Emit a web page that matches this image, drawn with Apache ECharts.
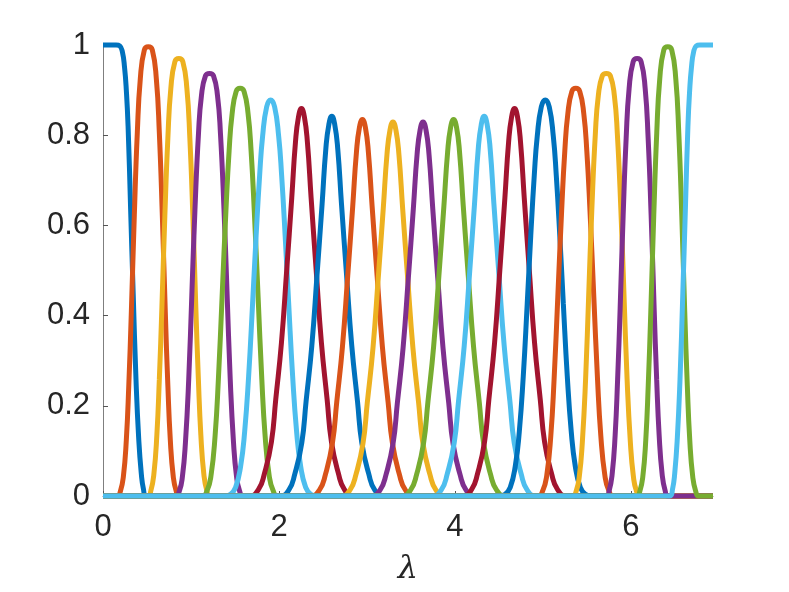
<!DOCTYPE html>
<html>
<head>
<meta charset="utf-8">
<script src="https://cdn.jsdelivr.net/npm/echarts@6/dist/echarts.min.js"></script>
<style>
  html, body { margin: 0; padding: 0; background: #fff; }
  #chart { width: 789px; height: 592px; }
</style>
</head>
<body>
<div id="chart"></div>
<script>
// tick values
const xTicks = [0, 2, 4, 6]
const yTicks = [0, 0.2, 0.4, 0.6, 0.8, 1]
const lamMax = 6.932

// curves, [lambda, value]
const c00 = [[0,1],[0.15,1],[0.19,0.998],[0.22,0.985],[0.245,0.95],[0.265,0.9],[0.285,0.82],[0.314,0.635],[0.343,0.45],[0.375,0.258],[0.405,0.13],[0.435,0.05],[0.46,0.015],[0.49,0],[6.932,0]]
const c01 = [[0,0],[0.163,0],[0.197,0.010],[0.231,0.042],[0.265,0.124],[0.293,0.245],[0.322,0.408],[0.356,0.623],[0.390,0.806],[0.424,0.925],[0.470,0.989],[0.515,0.996],[0.560,0.989],[0.606,0.925],[0.640,0.806],[0.674,0.623],[0.708,0.408],[0.737,0.245],[0.765,0.124],[0.799,0.042],[0.833,0.010],[0.867,0],[6.932,0]]
const c02 = [[0,0],[0.510,0],[0.544,0.012],[0.578,0.048],[0.612,0.135],[0.640,0.258],[0.669,0.417],[0.703,0.622],[0.737,0.793],[0.771,0.904],[0.817,0.963],[0.862,0.970],[0.907,0.963],[0.953,0.904],[0.987,0.793],[1.021,0.622],[1.055,0.417],[1.084,0.258],[1.112,0.135],[1.146,0.048],[1.180,0.012],[1.214,0],[6.932,0]]
const c03 = [[0,0],[0.824,0],[0.869,0.012],[0.903,0.044],[0.937,0.119],[0.974,0.258],[1.011,0.455],[1.045,0.635],[1.085,0.803],[1.119,0.888],[1.165,0.932],[1.210,0.937],[1.255,0.932],[1.301,0.888],[1.335,0.803],[1.375,0.635],[1.409,0.455],[1.446,0.258],[1.483,0.119],[1.517,0.044],[1.551,0.012],[1.596,0],[6.932,0]]
const c04 = [[0,0],[1.126,0],[1.183,0.012],[1.228,0.046],[1.274,0.134],[1.311,0.258],[1.353,0.440],[1.397,0.633],[1.433,0.765],[1.467,0.847],[1.513,0.897],[1.558,0.904],[1.603,0.897],[1.649,0.847],[1.683,0.765],[1.719,0.633],[1.763,0.440],[1.805,0.258],[1.842,0.134],[1.888,0.046],[1.933,0.012],[1.990,0],[6.932,0]]
const c05 = [[0,0],[1.382,0],[1.450,0.004],[1.507,0.019],[1.564,0.066],[1.610,0.143],[1.655,0.266],[1.700,0.427],[1.740,0.577],[1.780,0.711],[1.814,0.798],[1.860,0.863],[1.905,0.878],[1.950,0.863],[1.996,0.798],[2.030,0.711],[2.070,0.577],[2.110,0.427],[2.155,0.266],[2.200,0.143],[2.246,0.066],[2.303,0.019],[2.360,0.004],[2.428,0],[6.932,0]]
const c06 = [[0,0],[1.664,0],[1.766,0.014],[1.835,0.050],[1.914,0.120],[1.963,0.214],[2.028,0.340],[2.088,0.502],[2.145,0.661],[2.187,0.784],[2.221,0.840],[2.255,0.859],[2.289,0.840],[2.323,0.784],[2.365,0.661],[2.422,0.502],[2.482,0.340],[2.547,0.214],[2.596,0.120],[2.675,0.050],[2.744,0.014],[2.846,0],[6.932,0]]
const c07 = [[0,0],[2.009,0],[2.111,0.013],[2.180,0.049],[2.259,0.118],[2.308,0.210],[2.373,0.333],[2.433,0.492],[2.490,0.648],[2.532,0.769],[2.566,0.823],[2.600,0.842],[2.634,0.823],[2.668,0.769],[2.710,0.648],[2.767,0.492],[2.827,0.333],[2.892,0.210],[2.941,0.118],[3.020,0.049],[3.089,0.013],[3.191,0],[6.932,0]]
const c08 = [[0,0],[2.357,0],[2.459,0.013],[2.528,0.048],[2.607,0.117],[2.656,0.208],[2.721,0.331],[2.781,0.488],[2.838,0.643],[2.880,0.762],[2.914,0.817],[2.948,0.835],[2.982,0.817],[3.016,0.762],[3.058,0.643],[3.115,0.488],[3.175,0.331],[3.240,0.208],[3.289,0.117],[3.368,0.048],[3.437,0.013],[3.539,0],[6.932,0]]
const c09 = [[0,0],[2.704,0],[2.806,0.013],[2.875,0.048],[2.954,0.116],[3.003,0.206],[3.068,0.328],[3.128,0.484],[3.185,0.638],[3.227,0.757],[3.261,0.811],[3.295,0.829],[3.329,0.811],[3.363,0.757],[3.405,0.638],[3.462,0.484],[3.522,0.328],[3.587,0.206],[3.636,0.116],[3.715,0.048],[3.784,0.013],[3.886,0],[6.932,0]]
const c10 = [[0,0],[3.046,0],[3.148,0.013],[3.217,0.048],[3.296,0.116],[3.345,0.206],[3.410,0.328],[3.470,0.484],[3.527,0.638],[3.569,0.757],[3.603,0.811],[3.637,0.829],[3.671,0.811],[3.705,0.757],[3.747,0.638],[3.804,0.484],[3.864,0.328],[3.929,0.206],[3.978,0.116],[4.057,0.048],[4.126,0.013],[4.228,0],[6.932,0]]
const c11 = [[0,0],[3.393,0],[3.495,0.013],[3.564,0.048],[3.643,0.117],[3.692,0.208],[3.757,0.331],[3.817,0.488],[3.874,0.643],[3.916,0.762],[3.950,0.817],[3.984,0.835],[4.018,0.817],[4.052,0.762],[4.094,0.643],[4.151,0.488],[4.211,0.331],[4.276,0.208],[4.325,0.117],[4.404,0.048],[4.473,0.013],[4.575,0],[6.932,0]]
const c12 = [[0,0],[3.741,0],[3.843,0.013],[3.912,0.049],[3.991,0.118],[4.040,0.210],[4.105,0.333],[4.165,0.492],[4.222,0.648],[4.264,0.769],[4.298,0.823],[4.332,0.842],[4.366,0.823],[4.400,0.769],[4.442,0.648],[4.499,0.492],[4.559,0.333],[4.624,0.210],[4.673,0.118],[4.752,0.049],[4.821,0.013],[4.923,0],[6.932,0]]
const c13 = [[0,0],[4.086,0],[4.188,0.014],[4.257,0.050],[4.336,0.120],[4.385,0.214],[4.450,0.340],[4.510,0.502],[4.567,0.661],[4.609,0.784],[4.643,0.840],[4.677,0.859],[4.711,0.840],[4.745,0.784],[4.787,0.661],[4.844,0.502],[4.904,0.340],[4.969,0.214],[5.018,0.120],[5.097,0.050],[5.166,0.014],[5.268,0],[6.932,0]]
const c14 = [[0,0],[4.503,0],[4.571,0.004],[4.628,0.019],[4.685,0.066],[4.731,0.143],[4.776,0.266],[4.821,0.427],[4.861,0.577],[4.901,0.711],[4.935,0.798],[4.981,0.863],[5.026,0.878],[5.071,0.863],[5.117,0.798],[5.151,0.711],[5.191,0.577],[5.231,0.427],[5.276,0.266],[5.321,0.143],[5.367,0.066],[5.424,0.019],[5.481,0.004],[5.549,0],[6.932,0]]
const c15 = [[0,0],[4.941,0],[4.998,0.012],[5.043,0.046],[5.089,0.134],[5.126,0.258],[5.168,0.440],[5.212,0.633],[5.248,0.765],[5.282,0.847],[5.328,0.897],[5.373,0.904],[5.418,0.897],[5.464,0.847],[5.498,0.765],[5.534,0.633],[5.578,0.440],[5.620,0.258],[5.657,0.134],[5.703,0.046],[5.748,0.012],[5.805,0],[6.932,0]]
const c16 = [[0,0],[5.334,0],[5.379,0.012],[5.413,0.044],[5.447,0.119],[5.484,0.258],[5.521,0.455],[5.555,0.635],[5.595,0.803],[5.629,0.888],[5.675,0.932],[5.720,0.937],[5.765,0.932],[5.811,0.888],[5.845,0.803],[5.885,0.635],[5.919,0.455],[5.956,0.258],[5.993,0.119],[6.027,0.044],[6.061,0.012],[6.106,0],[6.932,0]]
const c17 = [[0,0],[5.718,0],[5.752,0.012],[5.786,0.048],[5.820,0.135],[5.848,0.258],[5.877,0.417],[5.911,0.622],[5.945,0.793],[5.979,0.904],[6.025,0.963],[6.070,0.970],[6.115,0.963],[6.161,0.904],[6.195,0.793],[6.229,0.622],[6.263,0.417],[6.292,0.258],[6.320,0.135],[6.354,0.048],[6.388,0.012],[6.422,0],[6.932,0]]
const c18 = [[0,0],[6.066,0],[6.100,0.010],[6.134,0.042],[6.168,0.124],[6.196,0.245],[6.225,0.408],[6.259,0.623],[6.293,0.806],[6.327,0.925],[6.373,0.989],[6.418,0.996],[6.463,0.989],[6.509,0.925],[6.543,0.806],[6.577,0.623],[6.611,0.408],[6.640,0.245],[6.668,0.124],[6.702,0.042],[6.736,0.010],[6.770,0],[6.932,0]]
const c19 = [[0,0],[6.442,0],[6.472,0.015],[6.497,0.05],[6.527,0.13],[6.557,0.258],[6.589,0.45],[6.618,0.635],[6.647,0.82],[6.667,0.9],[6.687,0.95],[6.712,0.985],[6.742,0.998],[6.782,1],[6.932,1]]

const curves = [c00, c01, c02, c03, c04, c05, c06, c07, c08, c09,
  c10, c11, c12, c13, c14, c15, c16, c17, c18, c19]

// matlab default colour order
const colorOrder = ['#0072BD', '#D95319', '#EDB120', '#7E2F8E', '#77AC30', '#4DBEEE', '#A2142F']

const myChart = echarts.init(document.getElementById('chart'))

const axisFont = "'Liberation Sans', Helvetica, Arial, sans-serif"

var option = {
  animation: false,
  backgroundColor: '#fff',
  grid: {
    left: 103,
    right: 76,
    top: 45,
    bottom: 96,
    containLabel: false,
    outerBoundsMode: 'none'
  },
  xAxis: {
    type: 'value',
    min: 0,
    max: lamMax,
    interval: 2,
    name: 'λ',
    nameLocation: 'middle',
    nameGap: 58,
    nameTextStyle: {
      fontFamily: "'DejaVu Serif', 'Liberation Serif', serif",
      fontStyle: 'italic',
      fontSize: 32,
      color: '#262626'
    },
    axisLine: { show: true, lineStyle: { color: '#7f7f7f', width: 1 } },
    axisTick: { show: true, inside: true, length: 5, customValues: xTicks, lineStyle: { color: '#555' } },
    axisLabel: { customValues: xTicks, fontSize: 31, color: '#262626', fontFamily: axisFont, margin: 16 },
    splitLine: { show: false }
  },
  yAxis: {
    type: 'value',
    min: 0,
    max: 1,
    interval: 0.2,
    axisLine: { show: true, lineStyle: { color: '#7f7f7f', width: 1 } },
    axisTick: { show: true, inside: true, length: 5, customValues: yTicks, lineStyle: { color: '#555' } },
    axisLabel: { customValues: yTicks, fontSize: 31, color: '#262626', fontFamily: axisFont, margin: 13 },
    splitLine: { show: false }
  },
  series: curves.map((pts, i) => ({
    type: 'line',
    data: pts,
    smooth: 0.5,
    symbol: 'none',
    clip: false,
    lineStyle: { color: colorOrder[i % colorOrder.length], width: 5 }
  }))
}

myChart.setOption(option)
</script>
</body>
</html>
